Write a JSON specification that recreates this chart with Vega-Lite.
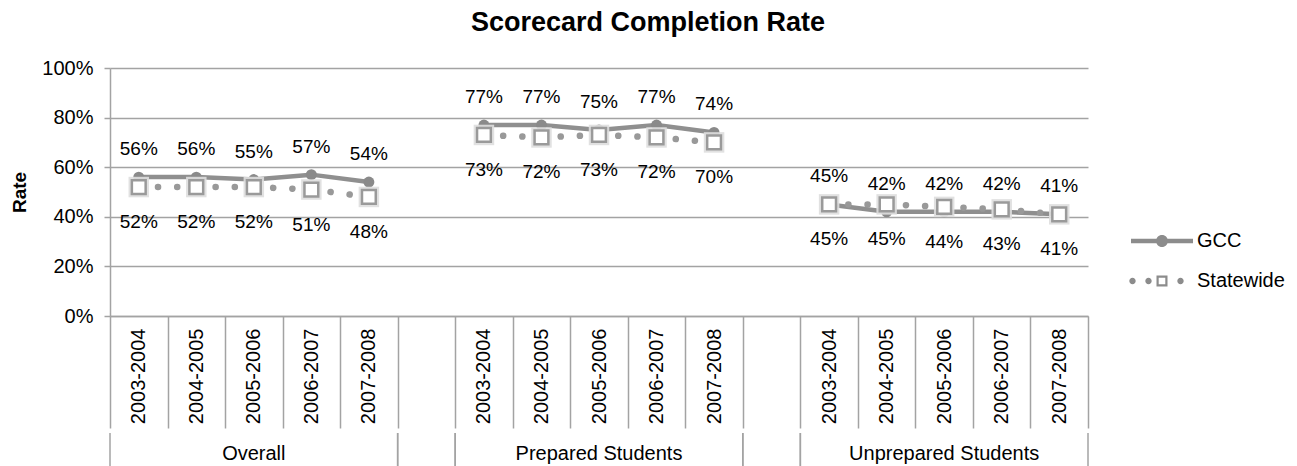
{
  "$schema": "https://vega.github.io/schema/vega-lite/v6.json",
  "padding": {"left": 10, "top": 9, "right": 5, "bottom": 0},
  "title": {"text": "Scorecard Completion Rate", "fontSize": 27, "fontWeight": "bold", "color": "#000", "anchor": "middle", "offset": 21},
  "datasets": {
    "rates": [
      {"cat": "Overall|2003-2004", "group": "Overall", "series": "GCC", "rate": 0.56},
      {"cat": "Overall|2004-2005", "group": "Overall", "series": "GCC", "rate": 0.56},
      {"cat": "Overall|2005-2006", "group": "Overall", "series": "GCC", "rate": 0.55},
      {"cat": "Overall|2006-2007", "group": "Overall", "series": "GCC", "rate": 0.57},
      {"cat": "Overall|2007-2008", "group": "Overall", "series": "GCC", "rate": 0.54},
      {"cat": "Prepared|2003-2004", "group": "Prepared", "series": "GCC", "rate": 0.77},
      {"cat": "Prepared|2004-2005", "group": "Prepared", "series": "GCC", "rate": 0.77},
      {"cat": "Prepared|2005-2006", "group": "Prepared", "series": "GCC", "rate": 0.75},
      {"cat": "Prepared|2006-2007", "group": "Prepared", "series": "GCC", "rate": 0.77},
      {"cat": "Prepared|2007-2008", "group": "Prepared", "series": "GCC", "rate": 0.74},
      {"cat": "Unprepared|2003-2004", "group": "Unprepared", "series": "GCC", "rate": 0.45},
      {"cat": "Unprepared|2004-2005", "group": "Unprepared", "series": "GCC", "rate": 0.42},
      {"cat": "Unprepared|2005-2006", "group": "Unprepared", "series": "GCC", "rate": 0.42},
      {"cat": "Unprepared|2006-2007", "group": "Unprepared", "series": "GCC", "rate": 0.42},
      {"cat": "Unprepared|2007-2008", "group": "Unprepared", "series": "GCC", "rate": 0.41},
      {"cat": "Overall|2003-2004", "group": "Overall", "series": "Statewide", "rate": 0.52},
      {"cat": "Overall|2004-2005", "group": "Overall", "series": "Statewide", "rate": 0.52},
      {"cat": "Overall|2005-2006", "group": "Overall", "series": "Statewide", "rate": 0.52},
      {"cat": "Overall|2006-2007", "group": "Overall", "series": "Statewide", "rate": 0.51},
      {"cat": "Overall|2007-2008", "group": "Overall", "series": "Statewide", "rate": 0.48},
      {"cat": "Prepared|2003-2004", "group": "Prepared", "series": "Statewide", "rate": 0.73},
      {"cat": "Prepared|2004-2005", "group": "Prepared", "series": "Statewide", "rate": 0.72},
      {"cat": "Prepared|2005-2006", "group": "Prepared", "series": "Statewide", "rate": 0.73},
      {"cat": "Prepared|2006-2007", "group": "Prepared", "series": "Statewide", "rate": 0.72},
      {"cat": "Prepared|2007-2008", "group": "Prepared", "series": "Statewide", "rate": 0.70},
      {"cat": "Unprepared|2003-2004", "group": "Unprepared", "series": "Statewide", "rate": 0.45},
      {"cat": "Unprepared|2004-2005", "group": "Unprepared", "series": "Statewide", "rate": 0.45},
      {"cat": "Unprepared|2005-2006", "group": "Unprepared", "series": "Statewide", "rate": 0.44},
      {"cat": "Unprepared|2006-2007", "group": "Unprepared", "series": "Statewide", "rate": 0.43},
      {"cat": "Unprepared|2007-2008", "group": "Unprepared", "series": "Statewide", "rate": 0.41}
    ],
    "groups": [
      {"label": "Overall", "first": "Overall|2003-2004", "mid": "Overall|2005-2006", "last": "Overall|2007-2008"},
      {"label": "", "first": "gap1", "mid": "gap1", "last": "gap1"},
      {"label": "Prepared Students", "first": "Prepared|2003-2004", "mid": "Prepared|2005-2006", "last": "Prepared|2007-2008"},
      {"label": "", "first": "gap2", "mid": "gap2", "last": "gap2"},
      {"label": "Unprepared Students", "first": "Unprepared|2003-2004", "mid": "Unprepared|2005-2006", "last": "Unprepared|2007-2008"}
    ]
  },
  "spacing": 3,
  "resolve": {"legend": {"color": "independent"}, "scale": {"x": "independent"}},
  "vconcat": [
    {
      "width": 978,
      "height": 248,
      "data": {"name": "rates"},
      "encoding": {
        "x": {
          "field": "cat", "type": "nominal", "title": null,
          "scale": {"type": "band", "paddingInner": 0, "paddingOuter": 0, "domain": ["Overall|2003-2004", "Overall|2004-2005", "Overall|2005-2006", "Overall|2006-2007", "Overall|2007-2008", "gap1", "Prepared|2003-2004", "Prepared|2004-2005", "Prepared|2005-2006", "Prepared|2006-2007", "Prepared|2007-2008", "gap2", "Unprepared|2003-2004", "Unprepared|2004-2005", "Unprepared|2005-2006", "Unprepared|2006-2007", "Unprepared|2007-2008"]},
          "axis": {"tickBand": "extent", "tickSize": 112, "tickColor": "#a3a3a3", "tickWidth": 1.5, "domainColor": "#a3a3a3", "domainWidth": 1.5, "labelAngle": 270, "labelAlign": "right", "labelBaseline": "middle", "labelPadding": -100, "labelFontSize": 20, "labelColor": "#000", "labelExpr": "split(datum.label, '|')[1] || ''", "labelOverlap": false, "grid": false}
        },
        "y": {
          "field": "rate", "type": "quantitative", "title": "Rate",
          "scale": {"domain": [0, 1], "nice": false},
          "axis": {"values": [0, 0.2, 0.4, 0.6, 0.8, 1], "format": ".0%", "grid": true, "gridColor": "#a3a3a3", "gridWidth": 1.5, "domainColor": "#a3a3a3", "domainWidth": 1.5, "tickColor": "#a3a3a3", "tickWidth": 1.5, "tickSize": 6, "labelPadding": 11, "labelFontSize": 20, "labelColor": "#000", "titleFontSize": 19, "titleFontWeight": "bold", "titlePadding": 12, "titleColor": "#000"}
        }
      },
      "layer": [
        {
          "transform": [{"filter": "datum.series === 'GCC'"}],
          "mark": {"type": "line", "strokeWidth": 4.5},
          "encoding": {
            "detail": {"field": "group"},
            "color": {
              "field": "series", "type": "nominal",
              "scale": {"domain": ["GCC", "Statewide"], "range": ["#8f8f8f", "#8f8f8f"]},
              "legend": {
                "orient": "none", "legendX": 1042, "legendY": 163, "title": null, "direction": "vertical",
                "symbolSize": 400, "labelFontSize": 20, "labelColor": "#000", "labelOffset": 25, "rowPadding": 20, "padding": 0,
                "encode": {"symbols": {"update": {
                  "shape": {"signal": "datum.value === 'GCC' ? 'M-3.1,-0.22H3.1V0.22H-3.1Z M0.6,0A0.6,0.6,0,1,1,-0.6,0A0.6,0.6,0,1,1,0.6,0Z' : 'M-2.63,0A0.32,0.32,0,1,1,-3.27,0A0.32,0.32,0,1,1,-2.63,0Z M-1.03,0A0.32,0.32,0,1,1,-1.67,0A0.32,0.32,0,1,1,-1.03,0Z M2.17,0A0.32,0.32,0,1,1,1.53,0A0.32,0.32,0,1,1,2.17,0Z M-0.55,-0.55H0.55V0.55H-0.55Z M-0.33,-0.33V0.33H0.33V-0.33Z'"},
                  "fill": {"value": "#8c8c8c"},
                  "stroke": {"value": "transparent"},
                  "strokeWidth": {"value": 0},
                  "opacity": {"value": 1}
                }}}
              }
            }
          }
        },
        {
          "transform": [{"filter": "datum.series === 'Statewide'"}],
          "mark": {"type": "line", "strokeWidth": 6.5, "strokeDash": [0.1, 19.1], "strokeCap": "round", "color": "#999999"},
          "encoding": {"detail": {"field": "group"}}
        },
        {
          "transform": [{"filter": "datum.series === 'GCC'"}],
          "mark": {"type": "point", "shape": "circle", "filled": true, "size": 120, "color": "#8a8a8a", "opacity": 1}
        },
        {
          "transform": [{"filter": "datum.series === 'Statewide'"}],
          "mark": {"type": "point", "shape": "square", "filled": true, "size": 420, "color": "#dedede", "opacity": 0.9}
        },
        {
          "transform": [{"filter": "datum.series === 'Statewide'"}],
          "mark": {"type": "point", "shape": "square", "filled": true, "size": 190, "fill": "#ffffff", "stroke": "#9a9a9a", "strokeWidth": 2.5, "opacity": 1}
        },
        {
          "transform": [{"filter": "datum.series === 'GCC'"}],
          "mark": {"type": "text", "fontSize": 19, "color": "#000", "dy": -28},
          "encoding": {"text": {"field": "rate", "type": "quantitative", "format": ".0%"}}
        },
        {
          "transform": [{"filter": "datum.series === 'Statewide'"}],
          "mark": {"type": "text", "fontSize": 19, "color": "#000", "dy": 35},
          "encoding": {"text": {"field": "rate", "type": "quantitative", "format": ".0%"}}
        }
      ]
    },
    {
      "width": 978,
      "height": 36,
      "data": {"name": "groups"},
      "layer": [
        {
          "mark": {"type": "rule", "color": "#a3a3a3", "strokeWidth": 1.5},
          "encoding": {"x": {"field": "first", "type": "nominal", "bandPosition": 0, "axis": null,
            "scale": {"type": "band", "paddingInner": 0, "paddingOuter": 0, "domain": ["Overall|2003-2004", "Overall|2004-2005", "Overall|2005-2006", "Overall|2006-2007", "Overall|2007-2008", "gap1", "Prepared|2003-2004", "Prepared|2004-2005", "Prepared|2005-2006", "Prepared|2006-2007", "Prepared|2007-2008", "gap2", "Unprepared|2003-2004", "Unprepared|2004-2005", "Unprepared|2005-2006", "Unprepared|2006-2007", "Unprepared|2007-2008"]}}}
        },
        {
          "mark": {"type": "rule", "color": "#a3a3a3", "strokeWidth": 1.5},
          "encoding": {"x": {"field": "last", "type": "nominal", "bandPosition": 1, "axis": null}}
        },
        {
          "mark": {"type": "text", "fontSize": 20, "color": "#000", "dy": 3},
          "encoding": {"x": {"field": "mid", "type": "nominal", "bandPosition": 0.5, "axis": null}, "text": {"field": "label"}}
        }
      ]
    }
  ],
  "config": {
    "font": "Liberation Sans",
    "view": {"stroke": null},
    "background": "#ffffff"
  }
}
